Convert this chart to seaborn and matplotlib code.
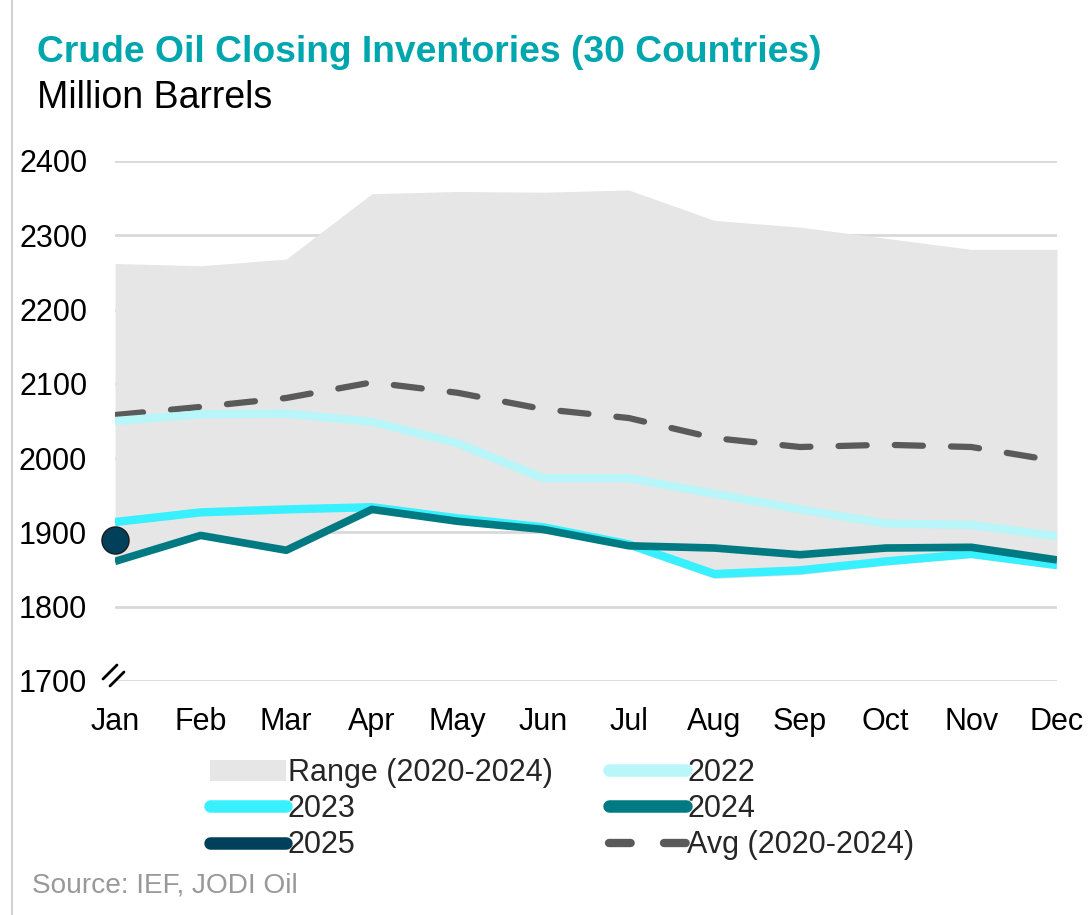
import pandas as pd
import numpy as np
import matplotlib.pyplot as plt
import seaborn as sns
from matplotlib.lines import Line2D
from matplotlib.patches import Patch

# Data (million barrels)
months = ['Jan', 'Feb', 'Mar', 'Apr', 'May', 'Jun', 'Jul', 'Aug', 'Sep', 'Oct', 'Nov', 'Dec']
range_high = [2262, 2259, 2268, 2356, 2359, 2358, 2361, 2320, 2311, 2296, 2281, 2281]
range_low = [1858, 1892, 1872, 1926, 1912, 1900, 1878, 1838, 1843, 1856, 1866, 1851]
avg_2020_2024 = [2058, 2069, 2081, 2102, 2088, 2066, 2054, 2027, 2015, 2018, 2015, 1996]
y2022 = [2050, 2059, 2060, 2049, 2020, 1973, 1973, 1952, 1931, 1912, 1910, 1895]
y2023 = [1914, 1927, 1931, 1934, 1919, 1907, 1884, 1844, 1849, 1861, 1871, 1856]
y2024 = [1861, 1896, 1876, 1931, 1915, 1904, 1882, 1879, 1870, 1879, 1880, 1863]
y2025 = [1890]

colors = {
    'range': '#e6e6e6',
    '2022': '#b8f6fa',
    '2023': '#38f0ff',
    '2024': '#007a82',
    '2025': '#00405a',
    'avg': '#5a5a5a',
}

df = pd.DataFrame({
    'month': list(range(12)) * 4,
    'value': y2022 + y2023 + y2024 + avg_2020_2024,
    'series': ['2022'] * 12 + ['2023'] * 12 + ['2024'] * 12 + ['avg'] * 12,
})

sns.set_style('white')
plt.rcParams['font.family'] = ['Liberation Sans', 'DejaVu Sans']

W, H = 1089, 915
fig = plt.figure(figsize=(W / 100, H / 100), dpi=100)
ax = fig.add_axes([115 / W, 1 - 681 / H, (1057 - 115) / W, (681 - 161) / H])

x = np.arange(12)
ax.fill_between(x, range_low, range_high, color=colors['range'], lw=0, zorder=1)

for s, lw in [('avg', 4.5), ('2022', 6), ('2023', 6), ('2024', 5.5)]:
    sub = df[df['series'] == s]
    kw = dict(dashes=(4.5, 4.5)) if s == 'avg' else {}
    sns.lineplot(data=sub, x='month', y='value', ax=ax, color=colors[s], lw=lw,
                 zorder=3, legend=False, solid_capstyle='butt', dash_capstyle='round', **kw)

sns.scatterplot(x=[0], y=y2025, ax=ax, s=380, color=colors['2025'],
                edgecolor='#1a1a1a', linewidth=1, zorder=5, clip_on=False, legend=False)

ax.set_xlim(0, 11)
ax.set_ylim(1700, 2400)
ax.set_yticks(range(1700, 2401, 100))
ax.set_xticks(x)
ax.set_xticklabels(months)
ax.set_xlabel('')
ax.set_ylabel('')
ax.grid(axis='y', color='#d9d9d9', lw=2)
ax.grid(axis='x', visible=False)
ax.set_axisbelow(True)
for sp in ax.spines.values():
    sp.set_visible(False)
ax.tick_params(axis='both', length=0, labelsize=22, colors='#000000')
ax.tick_params(axis='y', pad=20)
ax.tick_params(axis='x', pad=19)

# axis break marks
for dx in (0, 7):
    fig.add_artist(Line2D([(103 + dx) / W, (117 + dx) / W], [1 - (679 + dx) / H, 1 - (665 + dx) / H],
                          color='black', lw=2))

# left border
fig.add_artist(Line2D([12 / W, 12 / W], [0, 1], color='#c8c8c8', lw=1.2))

fig.text(37 / W, 1 - 62 / H, 'Crude Oil Closing Inventories (30 Countries)',
         fontsize=26.8, fontweight='bold', color='#00a6ad', va='baseline')
fig.text(37 / W, 1 - 108 / H, 'Million Barrels', fontsize=27, color='black', va='baseline')
fig.text(32 / W, 1 - 893 / H, 'Source: IEF, JODI Oil', fontsize=20.2, color='#999999', va='baseline')

handles = [
    Patch(facecolor=colors['range'], edgecolor='none', label='Range (2020-2024)'),
    Line2D([], [], color=colors['2023'], lw=9, solid_capstyle='round', label='2023'),
    Line2D([], [], color=colors['2025'], lw=9, solid_capstyle='round', label='2025'),
    Line2D([], [], color=colors['2022'], lw=9, solid_capstyle='round', label='2022'),
    Line2D([], [], color=colors['2024'], lw=9, solid_capstyle='round', label='2024'),
    Line2D([], [], color=colors['avg'], lw=6, ls=(0, (2.6, 4.0)), dash_capstyle='round',
           label='Avg (2020-2024)'),
]
fig.legend(handles=handles, ncol=2, loc='upper left', bbox_to_anchor=(210 / W, 1 - 758 / H),
           frameon=False, fontsize=22, handlelength=2.5, handleheight=0.7, handletextpad=0.05,
           columnspacing=1.85, labelspacing=0.2, borderpad=0, borderaxespad=0)

fig.savefig('out.png', dpi=100)
